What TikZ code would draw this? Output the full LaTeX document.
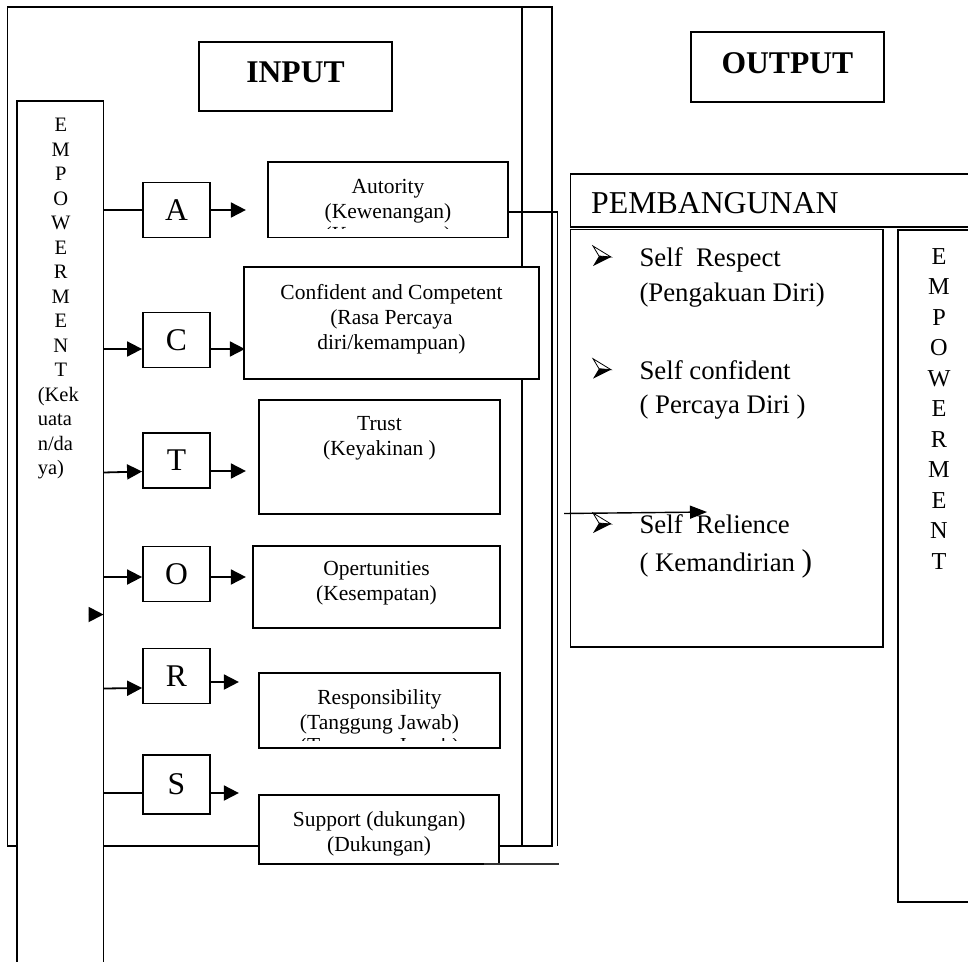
\documentclass[tikz,border=0pt]{standalone}
\usepackage{fontspec}
\setmainfont{Liberation Serif}
\usetikzlibrary{positioning,calc,arrows.meta}
\tikzstyle{chart} = [x = 1pt, y = -1pt]
\tikzstyle{frameLine} = [line width = 1.8pt]
\tikzstyle{boxStyle} = [draw, fill = white, line width = 1.8pt, inner sep = 0pt]
\tikzstyle{letterBox} = [boxStyle, minimum width = 67pt, minimum height = 55pt, font = \fontsize{31.6}{32}\selectfont]
\tikzstyle{boxText} = [align = center, inner sep = 0pt, font = \fontsize{21.5}{25}\selectfont]
\tikzstyle{titleText} = [inner sep = 0pt, font = \fontsize{31.6}{32}\selectfont\bfseries]
\tikzstyle{columnLetter} = [anchor = base, inner sep = 0pt, font = \fontsize{20.5}{24.5}\selectfont]
\tikzstyle{sideLetter} = [anchor = base, inner sep = 0pt, font = \fontsize{24.3}{30.5}\selectfont]
\tikzstyle{listText} = [anchor = base west, inner sep = 0pt, font = \fontsize{26.8}{36}\selectfont]
\tikzstyle{arrowLine} = [line width = 1.8pt, -{Triangle[length = 15pt, width = 15pt]}]
\newcommand{\infoBox}[8][boxText]{%
  \pgfmathsetmacro{\boxW}{#5 - #3}%
  \pgfmathsetmacro{\boxH}{#6 - #4}%
  \node [boxStyle, minimum width = \boxW pt, minimum height = \boxH pt,
    label = {[#1, yshift = #7 pt]center:{#8}}] (#2) at ({(#3 + #5) / 2}, {(#4 + #6) / 2}) {};
}
\newcommand{\listBullet}[3]{%
  \coordinate (#1) at (#2, #3);
  \draw [line width = 0.8pt, fill = white] ($(#1) + (-9, -10)$) -- ($(#1) + (9, 1)$) -- ($(#1) + (-3, 0)$) -- cycle;
  \fill ($(#1) + (-3, 0)$) -- ($(#1) + (9, 1)$) -- ($(#1) + (-9, 10)$) -- cycle;
}
\begin{document}
\begin{tikzpicture}[chart]
  \useasboundingbox (0, 0) rectangle (968, 961);

  % input frame
  \draw [frameLine] (7.5, 7) rectangle (552, 846);
  \draw [frameLine] (522, 7) -- (522, 846);

  % empowerment column
  \draw [frameLine, fill = white] (17, 975) -- (17, 101) -- (103.5, 101) -- (103.5, 975);
  \coordinate (colR) at (103.5, 101);
  \foreach \ch [count = \i] in {E,M,P,O,W,E,R,M,E,N,T}
    \node [columnLetter] (leftLetter\i) at (60.8, {131.7 + 24.5 * (\i - 1)}) {\ch};
  \foreach \word [count = \i from 12] in {{(Kek},uata,{n/da},{ya)}}
    \node [columnLetter, anchor = base west] (leftLetter\i) at (37.6, {131.7 + 24.5 * (\i - 1)}) {\word};

  % titles
  \infoBox[titleText]{inputBox}{199}{42}{392}{111}{4}{INPUT}
  \infoBox[titleText]{outputBox}{690.7}{31.7}{884}{101.7}{3.4}{OUTPUT}

  % boxes of the input side
  \infoBox{aut}{268}{162}{508}{237.5}{-1.5}{Autority\\(Kewenangan)}
  \infoBox{conf}{244}{267}{539}{379}{4}{Confident and Competent\\(Rasa Percaya\\diri/kemampuan)}
  \infoBox{trust}{259}{400}{500}{514}{18.5}{Trust\\(Keyakinan )}
  \infoBox{opp}{253}{546}{500}{628}{3.5}{Opertunities\\(Kesempatan)}
  \infoBox{resp}{259}{673}{500}{748}{-1.5}{Responsibility\\(Tanggung Jawab)}
  \infoBox{supp}{259}{795}{499.3}{864}{-4}{Support (dukungan)\\(Dukungan)}
  \begin{scope}
    \clip (268, 225.5) rectangle (508, 228.4);
    \node [boxText, anchor = base] (autGhost) at (388, 241.7) {(Kewenangan)};
  \end{scope}
  \begin{scope}
    \clip (259, 738.2) rectangle (500, 740.8);
    \node [boxText, anchor = base] (respGhost) at (379.5, 752) {(Tanggung Jawab)};
  \end{scope}

  % letters
  \node [letterBox] (A) at (176.5, 210) {A};
  \node [letterBox] (C) at (176.5, 340) {C};
  \node [letterBox] (T) at (176.5, 460.5) {T};
  \node [letterBox] (O) at (176.5, 574) {O};
  \node [letterBox] (R) at (176.5, 676) {R};
  \node [letterBox, minimum height = 59pt] (S) at (176.5, 784.5) {S};

  % connectors
  \draw [frameLine] (A.west -| colR) -- (A.west);
  \draw [arrowLine] (A.east) -- ++(35, 0);
  \draw [arrowLine] ($(C.west -| colR) + (0, 9)$) -- ($(C.west) + (0, 9)$);
  \draw [arrowLine] ($(C.east) + (0, 9)$) -- ++(34, 0);
  \draw [arrowLine] ($(T.west -| colR) + (0, 12)$) -- ($(T.west) + (0, 11)$);
  \draw [arrowLine] ($(T.east) + (0, 10.5)$) -- ++(35, 0);
  \draw [arrowLine] ($(O.west -| colR) + (0, 3)$) -- ($(O.west) + (0, 3)$);
  \draw [arrowLine] ($(O.east) + (0, 3)$) -- ++(35, 0);
  \coordinate (strayTip) at (103.5, 614.5);
  \draw [arrowLine] ($(strayTip) + (-15, 0)$) -- (strayTip);
  \draw [arrowLine] ($(R.west -| colR) + (0, 12.5)$) -- ($(R.west) + (0, 12)$);
  \draw [arrowLine] ($(R.east) + (0, 6)$) -- ++(28, 0);
  \draw [frameLine] ($(S.west -| colR) + (0, 8.5)$) -- ($(S.west) + (0, 8.5)$);
  \draw [arrowLine] ($(S.east) + (0, 8.5)$) -- ++(28, 0);
  \coordinate (sideFoot) at (557.5, 846);
  \draw [frameLine] ($(aut.east) + (0, 12)$) -| (sideFoot);
  \draw [line width = 1.4pt, black!80] ($(supp.south east) + (-16, -1)$) -- ++(75, 0);

  % output side
  \draw [frameLine] (975, 174) -- (570.5, 174) -- (570.5, 227) -- (975, 227);
  \node [listText, font = \fontsize{31.8}{32}\selectfont] (pembangunan) at (591, 213.3) {PEMBANGUNAN};
  \infoBox{selfBox}{570.5}{229.5}{883.3}{646.7}{0}{}
  \draw [frameLine, fill = white] (975, 230) -- (898, 230) -- (898, 902) -- (975, 902);
  \foreach \ch [count = \i] in {E,M,P,O,W,E,R,M,E,N,T}
    \node [sideLetter] (rightLetter\i) at (939, {264.3 + 30.5 * (\i - 1)}) {\ch};

  \listBullet{mark1}{602}{256}
  \node [listText] (respect) at (639.3, 266.7) {Self\ \ Respect};
  \node [listText] (pengakuan) at (639.3, 301.5) {(Pengakuan Diri)};
  \listBullet{mark2}{602}{368.7}
  \node [listText] (confident) at (639.3, 379.3) {Self confident};
  \node [listText] (percaya) at (639.3, 413.3) {( Percaya Diri )};
  \listBullet{mark3}{602}{523}
  \node [listText] (relience) at (639.3, 533.3) {Self\ \ Relience};
  \node [listText] (mandiri) at (639.3, 571) {( Kemandirian {\fontsize{31.6}{32}\selectfont)}};

  \coordinate (relStart) at (564, 513.5);
  \coordinate (relEnd) at (707, 512);
  \draw [line width = 1.4pt, -{Triangle[length = 17pt, width = 13pt]}] (relStart) -- (relEnd);
\end{tikzpicture}
\end{document}
